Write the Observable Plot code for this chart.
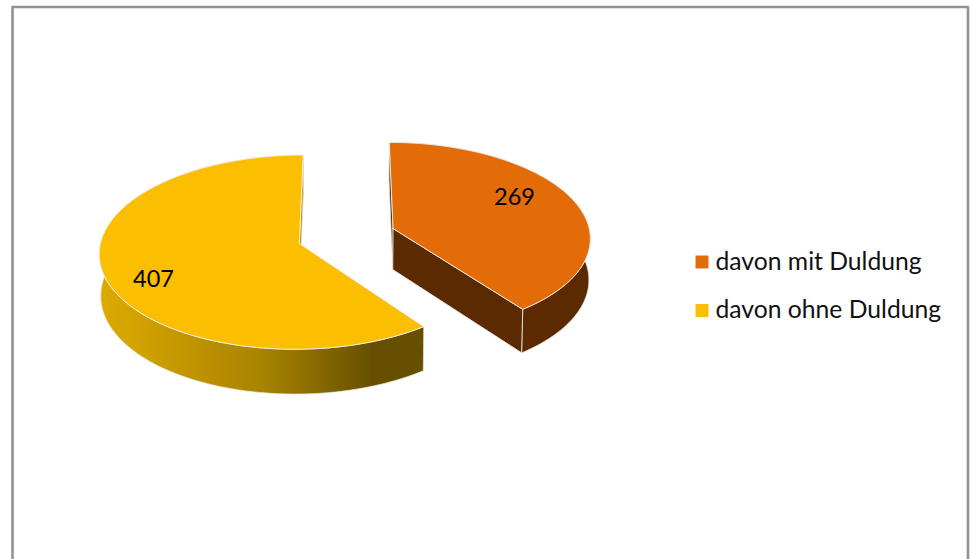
<!DOCTYPE html>
<html>
<head>
<meta charset="utf-8">
<script src="https://cdn.jsdelivr.net/npm/d3@7"></script>
<script src="https://cdn.jsdelivr.net/npm/@observablehq/plot@0.6"></script>
<style>
html,body{margin:0;padding:0;background:#fff;}
svg{display:block;}
[aria-label="wall shadow"]{filter:blur(1.2px);}
</style>
</head>
<body>
<script>
const categories = ["davon mit Duldung", "davon ohne Duldung"];
const values = [269, 407];
const topColors = ["#E36C09", "#FBBE00"];
const wallColors = ["#5B2A00", "url(#yellowWall)"];
const cutColors = ["#5B2A00", "#C49A00"];

// 3D pie camera
const view = {cx: 346, cy: 235.5, rx: 197.5, ry: 95, k: 0.088, explode: 0.25, depth: 41.5, shrink: 0.006};
const labelAnchors = [[514, 197], [153, 279]];
const legendAnchors = {x: 701.5, text: 715, y: [261.5, 310]};
const frameEdges = [[12, 559], [12, 6.5], [967.5, 6.5], [967.5, 559]];

function project(X, Z, lower, extra = 0) {
  const w = 1 - view.k * Z + (lower ? view.shrink : 0);
  return {
    x: view.cx + view.rx * X / w,
    y: view.cy + (view.ry * Z + (lower ? view.depth + extra : 0)) / w
  };
}

const arcs = d3.pie().sort(null)(values);
const slices = arcs.map((a) => {
  const mid = (a.startAngle + a.endAngle) / 2;
  const ox = Math.sin(mid) * view.explode, oz = -Math.cos(mid) * view.explode;
  const n = Math.ceil((a.endAngle - a.startAngle) * 180 / Math.PI);
  const angles = d3.range(n + 1).map(i => a.startAngle + (a.endAngle - a.startAngle) * i / n);
  const rim = (lower, extra) => angles.map(t => project(ox + Math.sin(t), oz - Math.cos(t), lower, extra));
  const apex = (lower, extra) => project(ox, oz, lower, extra);
  return {rim, apex};
});

const ring = pts => [...pts, pts[0]];
const topFace = s => ring([s.apex(false), ...s.rim(false)]);
const rimWall = (s, extra) => ring([...s.rim(false), ...s.rim(true, extra).reverse()]);
const cutAt = (s, end) => { const a = s.rim(false), b = s.rim(true), j = end ? a.length - 1 : 0;
  return ring([s.apex(false), a[j], b[j], s.apex(true)]); };
const shadowShape = s => ring([s.apex(true, 2.5), ...s.rim(true, 2.5)]);

const poly = (pts, o) => Plot.line(pts, {x: "x", y: "y", curve: "linear", ...o});

const defs = () => {
  const svg = d3.create("svg:defs");
  const g = svg.append("linearGradient").attr("id", "yellowWall");
  g.append("stop").attr("offset", "0%").attr("stop-color", "#DDAB00");
  g.append("stop").attr("offset", "50%").attr("stop-color", "#A98300");
  g.append("stop").attr("offset", "84%").attr("stop-color", "#665000");
  g.append("stop").attr("offset", "100%").attr("stop-color", "#665000");
  return svg.node();
};

const marks = [defs,
  Plot.line(frameEdges, {x: d => d[0], y: d => d[1], stroke: "#929292", strokeWidth: 2.6, curve: "linear"})
];

// yellow first, then orange; each slice shows the cut wall that faces the viewer
[1, 0].forEach(i => {
  const s = slices[i];
  marks.push(poly(shadowShape(s), {fill: "#9a9a9a", stroke: "none", ariaLabel: "wall shadow"}));
  marks.push(poly(rimWall(s), {fill: wallColors[i], stroke: "#e6e6e6", strokeWidth: 0.7}));
  marks.push(poly(cutAt(s, i === 1), {fill: cutColors[i], stroke: "#e6e6e6", strokeWidth: 0.7}));
  if (i === 0) marks.push(poly(cutAt(s, true), {fill: cutColors[i], stroke: "#e6e6e6", strokeWidth: 0.9}));
  marks.push(poly(topFace(s), {fill: topColors[i], stroke: "#f2f2f2", strokeWidth: 0.9}));
});

marks.push(Plot.text(values, {
  x: (d, i) => labelAnchors[i][0], y: (d, i) => labelAnchors[i][1],
  text: d => String(d), fontSize: 23.5, fill: "#000", textAnchor: "middle"
}));
marks.push(Plot.dot(categories, {
  x: legendAnchors.x, y: (d, i) => legendAnchors.y[i],
  symbol: "square", r: 7.3, fill: (d, i) => topColors[i], stroke: "none"
}));
marks.push(Plot.text(categories, {
  x: legendAnchors.text, y: (d, i) => legendAnchors.y[i],
  text: d => d, fontSize: 24.7, fill: "#111", textAnchor: "start"
}));

document.body.append(Plot.plot({
  width: 973, height: 559,
  margin: 0,
  x: {domain: [0, 973], range: [0, 973], axis: null},
  y: {domain: [0, 559], range: [0, 559], axis: null},
  style: {fontFamily: "Lato, sans-serif", background: "#fff"},
  marks
}));
</script>
</body>
</html>
